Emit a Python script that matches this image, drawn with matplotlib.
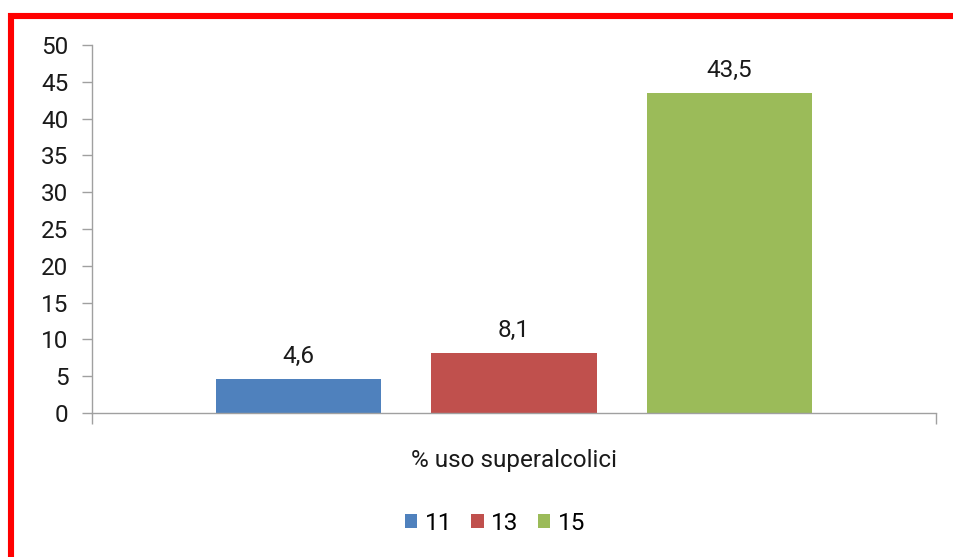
import matplotlib
matplotlib.use("Agg")
import matplotlib.pyplot as plt
from matplotlib.lines import Line2D
from matplotlib.patches import Patch

plt.rcParams['font.family'] = ['Roboto', 'DejaVu Sans']

category = "% uso superalcolici"
series = ["11", "13", "15"]
values = [4.6, 8.1, 43.5]
labels = ["4,6", "8,1", "43,5"]
colors = ["#4f81bd", "#c0504d", "#9bbb59"]
yticks = [0, 5, 10, 15, 20, 25, 30, 35, 40, 45, 50]

FS = 17.5
TXT = '#1a1a1a'

fig = plt.figure(figsize=(9.54, 5.57), dpi=100)
ax = fig.add_axes([92/954, 1-413/557, (936-92)/954, (413-45)/557])

width = 0.1955
step = 0.2553
offsets = [-step, 0, step]
for off, v, lab, c, s in zip(offsets, values, labels, colors, series):
    ax.bar(off, v, width=width, color=c, label=s)
    ax.text(off, v + 1.5, lab, ha='center', va='bottom', fontsize=FS, color=TXT)

ax.set_xlim(-0.5, 0.5)
ax.set_ylim(0, 50)
ax.set_yticks(yticks)
ax.set_yticklabels([str(t) for t in yticks], fontsize=FS, color=TXT)
ax.set_xticks([-0.5, 0.5])
ax.set_xticklabels(["", ""])
ax.tick_params(axis='y', length=7, width=1, color='#a0a0a0', pad=10)
ax.tick_params(axis='x', length=8, width=1, color='#a0a0a0')
for sp in ['top', 'right']:
    ax.spines[sp].set_visible(False)
for sp in ['left', 'bottom']:
    ax.spines[sp].set_color('#a0a0a0')
    ax.spines[sp].set_linewidth(1)

ax.text(0.5, -0.128, category, transform=ax.transAxes, ha='center', va='center',
        fontsize=FS, color=TXT)

handles = [Patch(facecolor=c, label=s) for c, s in zip(colors, series)]
fig.legend(handles=handles, loc='center', bbox_to_anchor=(495/954, 1-523/557), ncol=3,
           frameon=False, fontsize=FS, handlelength=0.5, handleheight=0.5,
           handletextpad=0.32, columnspacing=0.8)

# red frame
fig.add_artist(Line2D([11/954, 11/954], [1-13/557, 0], transform=fig.transFigure,
                      color='#ff0000', linewidth=4.4, solid_capstyle='butt'))
fig.add_artist(Line2D([8/954, 1], [1-16/557, 1-16/557], transform=fig.transFigure,
                      color='#ff0000', linewidth=4.4, solid_capstyle='butt'))

fig.savefig("out.png", dpi=100)
